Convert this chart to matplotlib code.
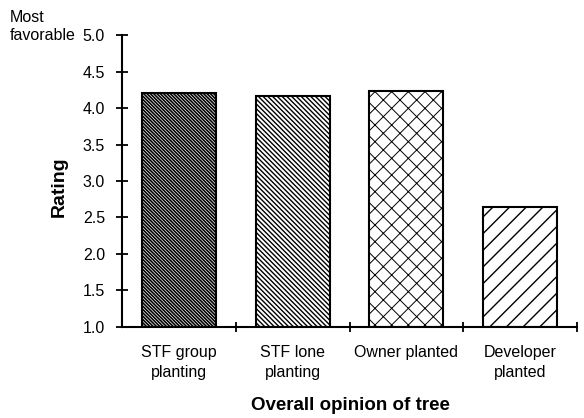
import matplotlib.pyplot as plt
import numpy as np

## Chart data
categories = ['STF group\nplanting', 'STF lone\nplanting', 'Owner planted', 'Developer\nplanted']
ratings = [4.20, 4.17, 4.24, 2.65]
hatches = ['\\' * 10, '\\' * 7, 'xx', '//']
hatch_widths = [1.2, 1.0, 0.7, 1.0]
y_ticks = [1.0, 1.5, 2.0, 2.5, 3.0, 3.5, 4.0, 4.5, 5.0]

plt.rcParams['font.family'] = ['Liberation Sans', 'DejaVu Sans']

fig = plt.figure(figsize=(5.84, 4.18), dpi=100)
ax = fig.add_axes([0.209, 0.218, 0.779, 0.698])

x = np.arange(len(categories))
base = 1.0
for xi, r, hatch, hw in zip(x, ratings, hatches, hatch_widths):
    with plt.rc_context({'hatch.linewidth': hw}):
        ax.bar(xi, r - base, bottom=base, width=0.65, color='white',
               edgecolor='black', linewidth=1.5, hatch=hatch)

ax.set_xlim(-0.5, 3.5)
ax.set_ylim(1.0, 5.0)

## Axis spines
for side in ['top', 'right']:
    ax.spines[side].set_visible(False)
ax.spines['left'].set_linewidth(1.5)
ax.spines['bottom'].set_linewidth(1.5)

## Ticks: crossing marks at category boundaries, labels under bars
ax.set_yticks(y_ticks)
ax.set_yticklabels(['%.1f' % t for t in y_ticks], fontsize=11.5)
ax.tick_params(axis='y', direction='inout', length=8.5, width=1.3, pad=8)

ax.set_xticks(x + 0.5)
ax.set_xticklabels([])
ax.tick_params(axis='x', which='major', direction='inout', length=7, width=1.3)
ax.set_xticks(x, minor=True)
ax.set_xticklabels(categories, minor=True, fontsize=11.5, linespacing=1.45)
ax.tick_params(axis='x', which='minor', length=0, pad=13)

ax.set_ylabel('Rating', fontsize=14, fontweight='bold')
ax.yaxis.set_label_coords(-0.12, 0.48)
ax.set_xlabel('Overall opinion of tree', fontsize=13.5, fontweight='bold')
ax.xaxis.set_label_coords(0.503, -0.24)

fig.text(0.017, 0.957, 'Most', fontsize=11.5, va='center')
fig.text(0.017, 0.916, 'favorable', fontsize=11.5, va='center')

fig.savefig('out.png', dpi=100)
